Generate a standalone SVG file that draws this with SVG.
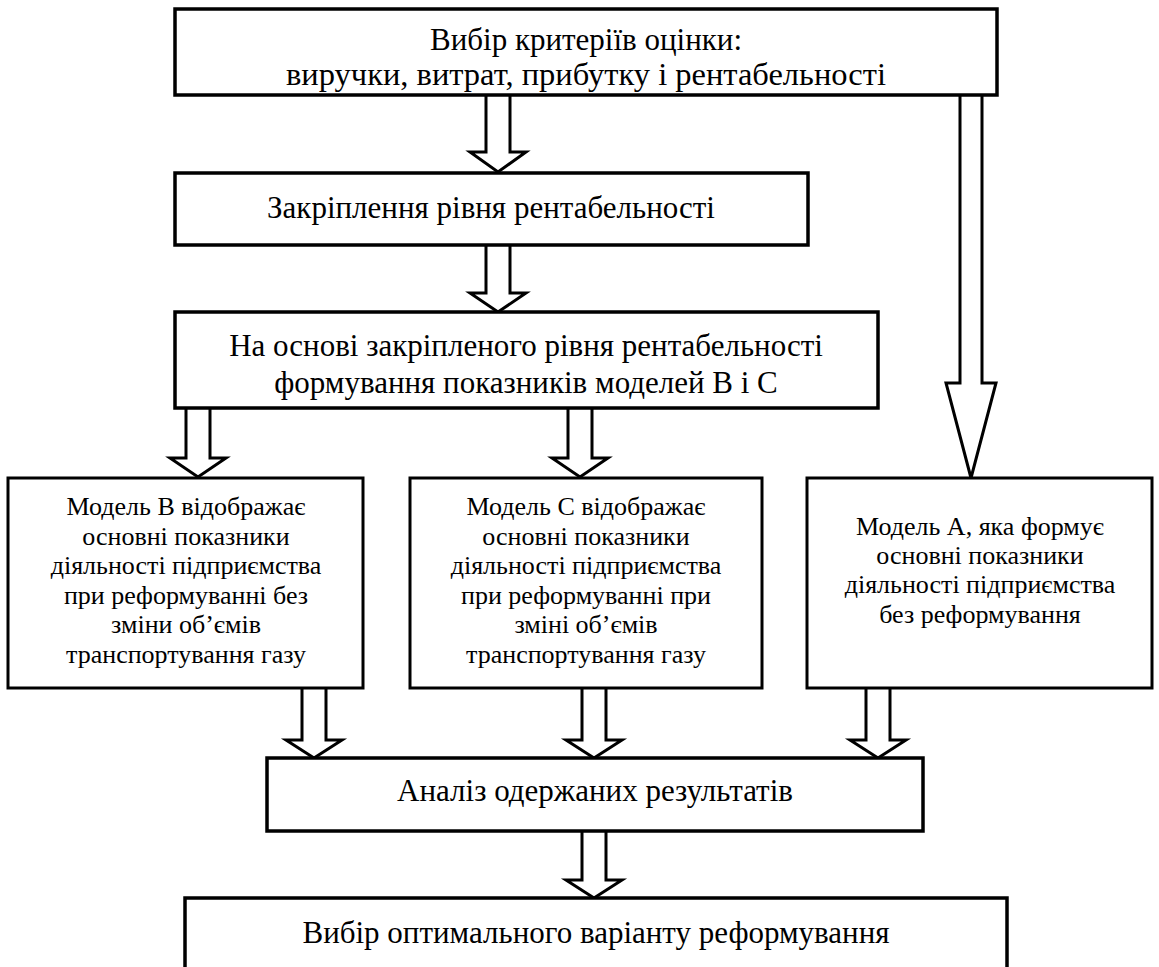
<svg xmlns="http://www.w3.org/2000/svg" width="1159" height="967" viewBox="0 0 1159 967">
<style>
.bx{fill:#fff;stroke:#000;stroke-width:3.5}
.bm{fill:#fff;stroke:#000;stroke-width:3}
.arr{fill:#fff;stroke:#000;stroke-width:3;stroke-linejoin:miter}
.t{font-family:"Liberation Serif","Times New Roman",serif;font-size:31px;fill:#000;text-anchor:middle}
.tm{font-family:"Liberation Serif","Times New Roman",serif;font-size:26px;fill:#000;text-anchor:middle}
</style>
<rect width="1159" height="967" fill="#fff"/>
<g id="connectors">
<path class="arr" d="M486,95 V152 H470 L498,172 L526,152 H510 V95"/>
<path class="arr" d="M486,245 V293 H470 L498,312 L526,293 H510 V245"/>
<path class="arr" d="M960,95 V383 H946 L971,478 L996,383 H982 V95"/>
<path class="arr" d="M186,408 V458 H170 L198,477 L226,458 H210 V408"/>
<path class="arr" d="M568,408 V458 H552 L580,477 L608,458 H592 V408"/>
<path class="arr" d="M302,688 V740 H286 L314,758 L342,740 H326 V688"/>
<path class="arr" d="M582,688 V740 H566 L594,758 L622,740 H606 V688"/>
<path class="arr" d="M866,688 V740 H850 L878,758 L906,740 H890 V688"/>
<path class="arr" d="M582,831 V880 H566 L594,898 L622,880 H606 V831"/>
</g>
<g id="n1">
<rect class="bx" x="175" y="9" width="822" height="86"/>
<text class="t" x="586" y="50">Вибір критеріїв оцінки:</text>
<text class="t" x="586" y="85" textLength="600" lengthAdjust="spacingAndGlyphs">виручки, витрат, прибутку і рентабельності</text>
</g>
<g id="n2">
<rect class="bx" x="175" y="173" width="633" height="72"/>
<text class="t" x="491" y="218">Закріплення рівня рентабельності</text>
</g>
<g id="n3">
<rect class="bx" x="175" y="312" width="703" height="96"/>
<text class="t" x="526" y="356">На основі закріпленого рівня рентабельності</text>
<text class="t" x="526" y="393">формування показників моделей В і С</text>
</g>
<g id="nB">
<rect class="bm" x="8" y="478" width="355" height="210"/>
<text class="tm" x="186" y="515">Модель В відображає</text>
<text class="tm" x="186" y="545">основні показники</text>
<text class="tm" x="186" y="574">діяльності підприємства</text>
<text class="tm" x="186" y="604">при реформуванні без</text>
<text class="tm" x="186" y="633">зміни об’ємів</text>
<text class="tm" x="186" y="663">транспортування газу</text>
</g>
<g id="nC">
<rect class="bm" x="410" y="478" width="352" height="210"/>
<text class="tm" x="586" y="515">Модель С відображає</text>
<text class="tm" x="586" y="545">основні показники</text>
<text class="tm" x="586" y="574">діяльності підприємства</text>
<text class="tm" x="586" y="604">при реформуванні при</text>
<text class="tm" x="586" y="633">зміні об’ємів</text>
<text class="tm" x="586" y="663">транспортування газу</text>
</g>
<g id="nA">
<rect class="bm" x="807" y="478" width="345" height="210"/>
<text class="tm" x="980" y="535">Модель А, яка формує</text>
<text class="tm" x="980" y="564">основні показники</text>
<text class="tm" x="980" y="593">діяльності підприємства</text>
<text class="tm" x="980" y="623">без реформування</text>
</g>
<g id="n4">
<rect class="bx" x="267" y="758" width="656" height="73"/>
<text class="t" x="595" y="801">Аналіз одержаних результатів</text>
</g>
<g id="n5">
<rect class="bx" x="185" y="898" width="822" height="85"/>
<text class="t" x="596" y="943">Вибір оптимального варіанту реформування</text>
</g>
</svg>
